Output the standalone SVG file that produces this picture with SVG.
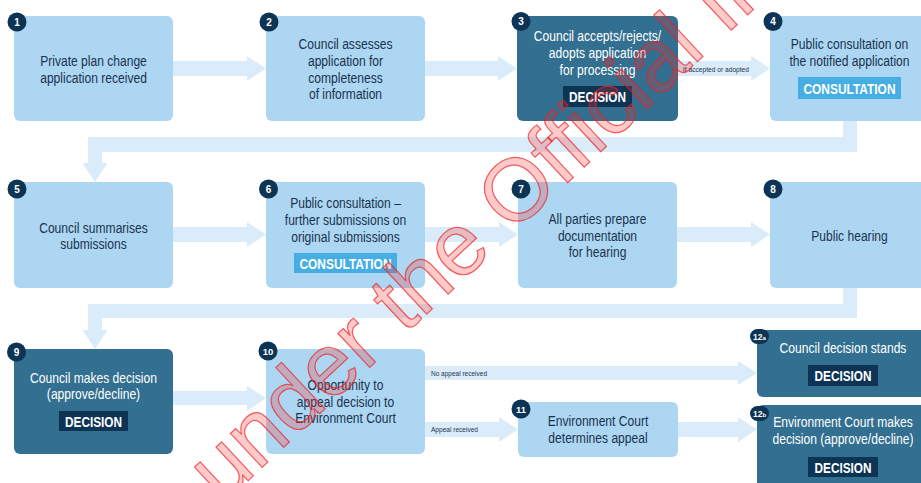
<svg xmlns="http://www.w3.org/2000/svg" width="921" height="483" viewBox="0 0 921 483">
<style>
.light{fill:#acd6f1}
.dark{fill:#326f90}
.band{fill:#daecf9}
.t{font-family:"Liberation Sans","Arial",sans-serif;font-size:15.5px;fill:#1b3350;text-anchor:middle}
.w{fill:#ffffff}
.tag{fill:#0d3454}
.ctag{fill:#46aee3}
.tt{font-family:"Liberation Sans","Arial",sans-serif;font-weight:bold;font-size:15.5px;fill:#ffffff;text-anchor:middle}
.badge{fill:#0d3454}
.bt{font-family:"Liberation Sans","Arial",sans-serif;font-weight:bold;font-size:10px;fill:#ffffff;text-anchor:middle}
.small{font-family:"Liberation Sans","Arial",sans-serif;font-size:8px;fill:#1b3350}
.wm{font-family:"Liberation Sans","Arial",sans-serif;font-size:88px;fill:#ff2a2a;fill-opacity:0.25;stroke:#f02020;stroke-opacity:0.7;stroke-width:1.2}
</style>
<rect x="0" y="0" width="921" height="483" fill="#ffffff"/>
<g id="connectors">
<polygon class="band" points="173,61 247,61 247,56 266,68.5 247,81 247,76 173,76"/>
<polygon class="band" points="425,61 498,61 498,56 517,68.5 498,81 498,76 425,76"/>
<polygon class="band" points="678,61 751,61 751,56 770,68.5 751,81 751,76 678,76"/>
<polygon class="band" points="843,121 857,121 857,152 102,152 102,163 107.5,163 95,182 82.5,163 88,163 88,137 843,137"/>
<polygon class="band" points="173,227 247,227 247,222 266,234.5 247,247 247,242 173,242"/>
<polygon class="band" points="425,227 499,227 499,222 518,234.5 499,247 499,242 425,242"/>
<polygon class="band" points="677,227 751,227 751,222 770,234.5 751,247 751,242 677,242"/>
<polygon class="band" points="843,288 857,288 857,318 102,318 102,330 107.5,330 95,349 82.5,330 88,330 88,304 843,304"/>
<polygon class="band" points="173,391 247,391 247,386 266,398 247,411 247,405 173,405"/>
<polygon class="band" points="425,366 738,366 738,361 757,373 738,385 738,380 425,380"/>
<polygon class="band" points="425,422 499,422 499,417 518,429.5 499,442 499,437 425,437"/>
<polygon class="band" points="678,422 738,422 738,417 757,429.5 738,442 738,437 678,437"/>
<text class="small" x="683" y="72" textLength="66" lengthAdjust="spacingAndGlyphs">If accepted or adopted</text>
<text class="small" x="431" y="376" textLength="56" lengthAdjust="spacingAndGlyphs">No appeal received</text>
<text class="small" x="431" y="432" textLength="47" lengthAdjust="spacingAndGlyphs">Appeal received</text>
</g>
<g id="n1">
<rect class="light" x="14" y="16" width="159" height="105" rx="6"/>
<text class="t" transform="translate(93.5,66) scale(0.78,1)">Private plan change</text>
<text class="t" transform="translate(93.5,83) scale(0.78,1)">application received</text>
<circle class="badge" cx="17" cy="22" r="9.5"/><text class="bt" x="17" y="25.5">1</text>
</g>
<g id="n2">
<rect class="light" x="266" y="16" width="159" height="105" rx="6"/>
<text class="t" transform="translate(345.5,49) scale(0.78,1)">Council assesses</text>
<text class="t" transform="translate(345.5,66) scale(0.78,1)">application for</text>
<text class="t" transform="translate(345.5,83) scale(0.78,1)">completeness</text>
<text class="t" transform="translate(345.5,99) scale(0.78,1)">of information</text>
<circle class="badge" cx="269" cy="22" r="9.5"/><text class="bt" x="269" y="25.5">2</text>
</g>
<g id="n3">
<rect class="dark" x="517" y="16" width="161" height="105" rx="6"/>
<text class="t w" transform="translate(597.5,41) scale(0.78,1)">Council accepts/rejects/</text>
<text class="t w" transform="translate(597.5,58) scale(0.78,1)">adopts application</text>
<text class="t w" transform="translate(597.5,75) scale(0.78,1)">for processing</text>
<rect class="tag" x="563" y="86" width="69" height="21"/>
<text class="tt" x="597.5" y="102" textLength="57" lengthAdjust="spacingAndGlyphs">DECISION</text>
<circle class="badge" cx="521" cy="21.5" r="9.5"/><text class="bt" x="521" y="25">3</text>
</g>
<g id="n4">
<rect class="light" x="770" y="16" width="160" height="105" rx="6"/>
<text class="t" transform="translate(849.5,49) scale(0.78,1)">Public consultation on</text>
<text class="t" transform="translate(849.5,66) scale(0.78,1)">the notified application</text>
<rect class="ctag" x="798" y="77" width="103" height="22"/>
<text class="tt" x="849.5" y="94" textLength="92" lengthAdjust="spacingAndGlyphs">CONSULTATION</text>
<circle class="badge" cx="773" cy="21.5" r="9.5"/><text class="bt" x="773" y="25">4</text>
</g>
<g id="n5">
<rect class="light" x="14" y="182" width="159" height="106" rx="6"/>
<text class="t" transform="translate(93.5,233) scale(0.78,1)">Council summarises</text>
<text class="t" transform="translate(93.5,249) scale(0.78,1)">submissions</text>
<circle class="badge" cx="17" cy="189" r="9.5"/><text class="bt" x="17" y="192.5">5</text>
</g>
<g id="n6">
<rect class="light" x="266" y="182" width="159" height="106" rx="6"/>
<text class="t" transform="translate(345.5,208) scale(0.78,1)">Public consultation –</text>
<text class="t" transform="translate(345.5,225) scale(0.78,1)">further submissions on</text>
<text class="t" transform="translate(345.5,242) scale(0.78,1)">original submissions</text>
<rect class="ctag" x="294" y="253" width="103" height="20"/>
<text class="tt" x="345.5" y="269" textLength="92" lengthAdjust="spacingAndGlyphs">CONSULTATION</text>
<circle class="badge" cx="268.5" cy="189" r="9.5"/><text class="bt" x="268.5" y="192.5">6</text>
</g>
<g id="n7">
<rect class="light" x="518" y="182" width="159" height="106" rx="6"/>
<text class="t" transform="translate(597.5,224) scale(0.78,1)">All parties prepare</text>
<text class="t" transform="translate(597.5,241) scale(0.78,1)">documentation</text>
<text class="t" transform="translate(597.5,257) scale(0.78,1)">for hearing</text>
<circle class="badge" cx="521" cy="189" r="9.5"/><text class="bt" x="521" y="192.5">7</text>
</g>
<g id="n8">
<rect class="light" x="770" y="182" width="160" height="106" rx="6"/>
<text class="t" transform="translate(849.5,241) scale(0.78,1)">Public hearing</text>
<circle class="badge" cx="773" cy="189" r="9.5"/><text class="bt" x="773" y="192.5">8</text>
</g>
<g id="n9">
<rect class="dark" x="14" y="349" width="159" height="105" rx="6"/>
<text class="t w" transform="translate(93.5,383) scale(0.78,1)">Council makes decision</text>
<text class="t w" transform="translate(93.5,399) scale(0.78,1)">(approve/decline)</text>
<rect class="tag" x="59" y="411" width="69" height="20"/>
<text class="tt" x="93.5" y="427" textLength="57" lengthAdjust="spacingAndGlyphs">DECISION</text>
<circle class="badge" cx="16.5" cy="352" r="9.5"/><text class="bt" x="16.5" y="355.5">9</text>
</g>
<g id="n10">
<rect class="light" x="266" y="349" width="159" height="105" rx="6"/>
<text class="t" transform="translate(345.5,390) scale(0.78,1)">Opportunity to</text>
<text class="t" transform="translate(345.5,407) scale(0.78,1)">appeal decision to</text>
<text class="t" transform="translate(345.5,423) scale(0.78,1)">Environment Court</text>
<circle class="badge" cx="268" cy="351" r="9.5"/><text class="bt" x="268" y="354.5" style="font-size:9.5px">10</text>
</g>
<g id="n11">
<rect class="light" x="518" y="402" width="160" height="55" rx="6"/>
<text class="t" transform="translate(598,426) scale(0.78,1)">Environment Court</text>
<text class="t" transform="translate(598,443) scale(0.78,1)">determines appeal</text>
<circle class="badge" cx="521" cy="409" r="9.5"/><text class="bt" x="521" y="412.5" style="font-size:9.5px">11</text>
</g>
<g id="n12a">
<rect class="dark" x="757" y="330" width="172" height="67" rx="6"/>
<text class="t w" transform="translate(843,353) scale(0.78,1)">Council decision stands</text>
<rect class="tag" x="808" y="365" width="70" height="21"/>
<text class="tt" x="843" y="381" textLength="57" lengthAdjust="spacingAndGlyphs">DECISION</text>
<rect class="badge" x="750" y="329" width="19" height="15" rx="7.5"/><text class="bt" x="759.5" y="340" style="font-size:8.5px">12<tspan style="font-size:6px">a</tspan></text>
</g>
<g id="n12b">
<rect class="dark" x="757" y="405" width="172" height="90" rx="6"/>
<text class="t w" transform="translate(843,427) scale(0.78,1)">Environment Court makes</text>
<text class="t w" transform="translate(843,444) scale(0.78,1)">decision (approve/decline)</text>
<rect class="tag" x="808" y="457" width="70" height="20"/>
<text class="tt" x="843" y="473" textLength="57" lengthAdjust="spacingAndGlyphs">DECISION</text>
<rect class="badge" x="750" y="406" width="19" height="15" rx="7.5"/><text class="bt" x="759.5" y="417" style="font-size:8.5px">12<tspan style="font-size:6px">b</tspan></text>
</g>
<g id="watermark">
<text class="wm" transform="translate(222,505) rotate(-43)">under the Official Information Act</text>
</g>
</svg>
